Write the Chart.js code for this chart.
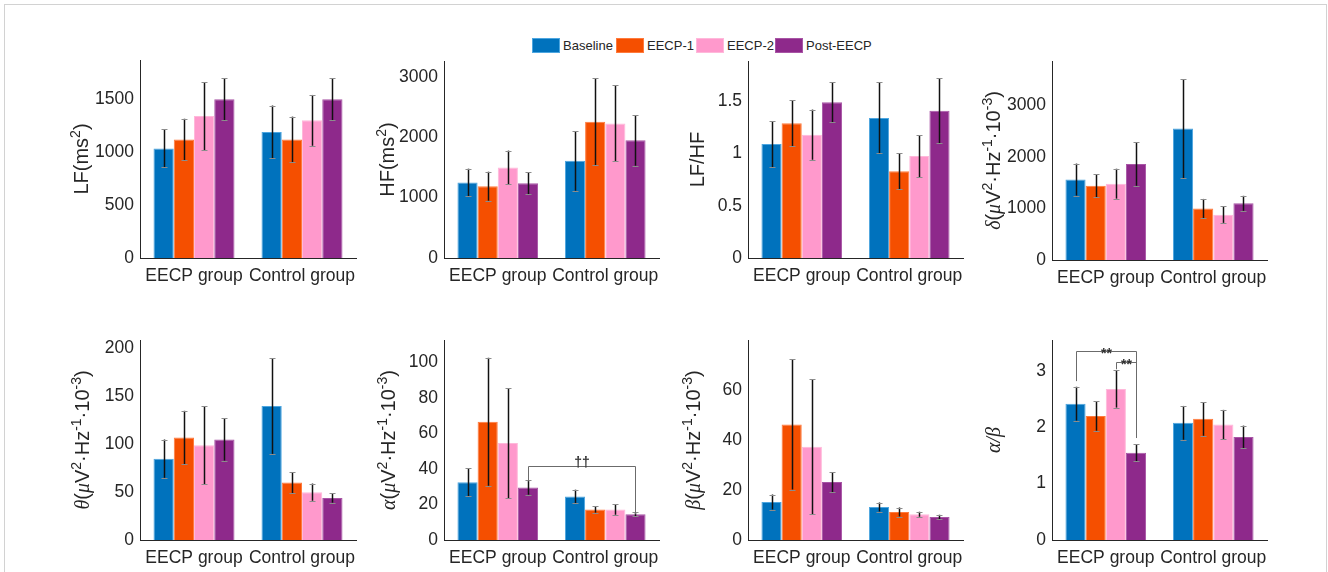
<!DOCTYPE html>
<html>
<head>
<meta charset="utf-8">
<script src="https://cdn.jsdelivr.net/npm/chart.js@4.4.0/dist/chart.umd.min.js"></script>
<style>
html,body{margin:0;padding:0;background:#fff;}
body{width:1328px;height:572px;position:relative;overflow:hidden;font-family:"Liberation Sans",Arial,sans-serif;}
#frame{position:absolute;left:4px;top:4px;width:1323px;height:620px;border:1px solid #d2d2d2;box-sizing:border-box;}
canvas{position:absolute;}
#legend{position:absolute;left:0;top:38px;width:1328px;height:15px;font-size:13px;color:#262626;white-space:nowrap;}
#legend .sw{position:absolute;top:0;width:28px;height:15px;box-sizing:border-box;}
#legend .tx{position:absolute;top:0;line-height:15px;}
</style>
</head>
<body>
<div id="frame"></div>
<div id="legend"></div>
<script>
// ---------------- data ----------------
const GROUPS = ['EECP group', 'Control group'];
const SERIES = ['Baseline', 'EECP-1', 'EECP-2', 'Post-EECP'];
const COLORS = ['#0072BD', '#F54F00', '#FF99CC', '#8E298B'];
const EDGES  = ['#4DA6E0', '#FF7A3D', '#FFB8DA', '#A855A5'];

// values indexed [series][group]
const LF_MEAN = [[1035, 1190], [1120, 1120], [1340, 1300], [1500, 1500]];
const LF_ERR  = [[180, 250], [195, 215], [320, 240], [200, 200]];
const LF_TICKS = [0, 500, 1000, 1500];

const HF_MEAN = [[1250, 1610], [1190, 2260], [1500, 2230], [1240, 1950]];
const HF_ERR  = [[230, 495], [240, 720], [280, 630], [180, 420]];
const HF_TICKS = [0, 1000, 2000, 3000];

const LFHF_MEAN = [[1.09, 1.34], [1.29, 0.83], [1.18, 0.975], [1.49, 1.41]];
const LFHF_ERR  = [[0.22, 0.34], [0.22, 0.17], [0.24, 0.2], [0.19, 0.31]];
const LFHF_TICKS = [0, 0.5, 1, 1.5];

const DELTA_MEAN = [[1560, 2550], [1440, 1000], [1480, 880], [1860, 1100]];
const DELTA_ERR  = [[310, 960], [220, 185], [290, 160], [420, 145]];
const DELTA_TICKS = [0, 1000, 2000, 3000];

const THETA_MEAN = [[85, 140], [107, 60], [99, 50], [105, 44]];
const THETA_ERR  = [[20, 50], [28, 11], [41, 9], [22, 5]];
const THETA_TICKS = [0, 50, 100, 150, 200];

const ALPHA_MEAN = [[32.5, 24.5], [66.5, 17.2], [54.5, 17.2], [29.5, 14.5]];
const ALPHA_ERR  = [[8, 3.8], [36, 1.8], [31, 3], [4, 1]];
const ALPHA_TICKS = [0, 20, 40, 60, 80, 100];

const BETA_MEAN = [[15.2, 13.2], [46.2, 11.2], [37.3, 10.3], [23.2, 9.2]];
const BETA_ERR  = [[3, 1.8], [26, 1.8], [27, 1], [4, 0.9]];
const BETA_TICKS = [0, 20, 40, 60];

const AB_MEAN = [[2.42, 2.08], [2.2, 2.15], [2.68, 2.05], [1.55, 1.83]];
const AB_ERR  = [[0.3, 0.3], [0.26, 0.3], [0.33, 0.26], [0.15, 0.2]];
const AB_TICKS = [0, 1, 2, 3];

// significance brackets: from/to = [series, group], y = bar level, yL/yR = drop ends
const ALPHA_BRACKETS = [{from: [3, 0], to: [3, 1], y: 41.9, yL: 33, yR: 14.5, label: '††'}];
const AB_BRACKETS = [
  {from: [0, 0], to: [3, 0], y: 3.357, yL: 2.82, yR: 1.81, label: '**'},
  {from: [2, 0], to: [3, 0], y: 3.167, yL: 3.03, yR: 1.81, label: '**'}
];

// y-axis titles as rich segments: [text, style]  style: n = normal, g = greek italic, s = superscript
const UNIT = [['(', 'n'], ['μ', 'g'], ['V', 'n'], ['2', 's'], ['·Hz', 'n'], ['-1', 's'], ['·10', 'n'], ['-3', 's'], [')', 'n']];
const TITLES = {
  lf: [['LF(ms', 'n'], ['2', 's'], [')', 'n']],
  hf: [['HF(ms', 'n'], ['2', 's'], [')', 'n']],
  lfhf: [['LF/HF', 'n']],
  delta: [['δ', 'g']].concat(UNIT),
  theta: [['θ', 'g']].concat(UNIT),
  alpha: [['α', 'g']].concat(UNIT),
  beta: [['β', 'g']].concat(UNIT),
  ab: [['α/β', 'g']]
};

// ---------------- layout ----------------
const YW = 110, PADT = 20, PADR = 20, XH = 36;
const LEGEND_X = [532, 616, 696, 775];
const PANELS = [
  {key: 'lf',    mean: LF_MEAN,    err: LF_ERR,    ticks: LF_TICKS,    max: 1870, box: [140, 356, 60, 258], toff: 52},
  {key: 'hf',    mean: HF_MEAN,    err: HF_ERR,    ticks: HF_TICKS,    max: 3265, box: [444, 659, 61, 258], toff: 50},
  {key: 'lfhf',  mean: LFHF_MEAN,  err: LFHF_ERR,  ticks: LFHF_TICKS,  max: 1.885, box: [748, 963, 61, 258], toff: 44},
  {key: 'delta', mean: DELTA_MEAN, err: DELTA_ERR, ticks: DELTA_TICKS, max: 3860, box: [1052, 1267, 61, 260], toff: 52},
  {key: 'theta', mean: THETA_MEAN, err: THETA_ERR, ticks: THETA_TICKS, max: 209, box: [140, 356, 340, 540], toff: 51},
  {key: 'alpha', mean: ALPHA_MEAN, err: ALPHA_ERR, ticks: ALPHA_TICKS, max: 112.5, box: [444, 659, 340, 540], toff: 49, brackets: ALPHA_BRACKETS},
  {key: 'beta',  mean: BETA_MEAN,  err: BETA_ERR,  ticks: BETA_TICKS,  max: 80, box: [748, 963, 340, 540], toff: 48},
  {key: 'ab',    mean: AB_MEAN,    err: AB_ERR,    ticks: AB_TICKS,    max: 3.55, box: [1052, 1267, 340, 540], toff: 52, brackets: AB_BRACKETS}
];

const TXT = '#262626';
const SANS = '"Liberation Sans", Arial, sans-serif';
Chart.defaults.font.family = SANS;
Chart.defaults.color = TXT;

// legend
const leg = document.getElementById('legend');
SERIES.forEach((s, i) => {
  const sw = document.createElement('div'); sw.className = 'sw';
  sw.style.left = LEGEND_X[i] + 'px';
  sw.style.background = COLORS[i]; sw.style.border = '1px solid ' + EDGES[i];
  const tx = document.createElement('span'); tx.className = 'tx';
  tx.style.left = (LEGEND_X[i] + 31) + 'px';
  tx.textContent = s;
  leg.appendChild(sw); leg.appendChild(tx);
});

function segFont(st) {
  if (st === 'g') return 'italic 20px "Liberation Serif", "DejaVu Serif", serif';
  if (st === 's') return '14px ' + SANS;
  return '20px ' + SANS;
}

const extrasPlugin = {
  id: 'extras',
  afterDatasetsDraw(chart) {
    const o = chart.options.plugins.extras;
    const ctx = chart.ctx, ys = chart.scales.y;
    // error bars
    chart.data.datasets.forEach((ds, si) => {
      const meta = chart.getDatasetMeta(si);
      meta.data.forEach((bar, gi) => {
        const m = ds.data[gi], e = o.err[si][gi];
        const yt = ys.getPixelForValue(m + e), yb = ys.getPixelForValue(m - e);
        const x = Math.round(bar.x) + 0.5;
        ctx.save();
        ctx.strokeStyle = '#111'; ctx.lineWidth = 1.5;
        ctx.beginPath(); ctx.moveTo(x, yt); ctx.lineTo(x, yb); ctx.stroke();
        ctx.strokeStyle = '#8c8c8c'; ctx.lineWidth = 1;
        ctx.beginPath();
        ctx.moveTo(x - 3, Math.round(yt) + 0.5); ctx.lineTo(x + 3, Math.round(yt) + 0.5);
        ctx.moveTo(x - 3, Math.round(yb) + 0.5); ctx.lineTo(x + 3, Math.round(yb) + 0.5);
        ctx.stroke();
        ctx.restore();
      });
    });
    // brackets
    (o.brackets || []).forEach(b => {
      const x1 = Math.round(chart.getDatasetMeta(b.from[0]).data[b.from[1]].x) + 0.5;
      const x2 = Math.round(chart.getDatasetMeta(b.to[0]).data[b.to[1]].x) + 0.5;
      const y = Math.round(ys.getPixelForValue(b.y)) + 0.5;
      ctx.save();
      ctx.strokeStyle = '#6b6b6b'; ctx.lineWidth = 1;
      ctx.beginPath();
      ctx.moveTo(x1, ys.getPixelForValue(b.yL)); ctx.lineTo(x1, y);
      ctx.lineTo(x2, y); ctx.lineTo(x2, ys.getPixelForValue(b.yR));
      ctx.stroke();
      ctx.fillStyle = '#333';
      ctx.font = 'bold 14px ' + SANS;
      ctx.textAlign = 'center'; ctx.textBaseline = 'alphabetic';
      ctx.fillText(b.label, (x1 + x2) / 2, y + (b.label === '**' ? 6 : 0));
      ctx.restore();
    });
  },
  afterDraw(chart) {
    const o = chart.options.plugins.extras;
    const ctx = chart.ctx, ca = chart.chartArea;
    const segs = o.title;
    ctx.save();
    ctx.translate(ca.left - o.toff, (ca.top + ca.bottom) / 2);
    ctx.rotate(-Math.PI / 2);
    let w = 0;
    segs.forEach(s => { ctx.font = segFont(s[1]); w += ctx.measureText(s[0]).width; });
    let cx = -w / 2;
    ctx.fillStyle = TXT; ctx.textBaseline = 'alphabetic'; ctx.textAlign = 'left';
    segs.forEach(s => {
      ctx.font = segFont(s[1]);
      ctx.fillText(s[0], cx, s[1] === 's' ? -8 : 0);
      cx += ctx.measureText(s[0]).width;
    });
    ctx.restore();
  }
};

PANELS.forEach(p => {
  const [ax, ar, at, ab] = p.box;
  const cv = document.createElement('canvas');
  const W = (ar - ax) + YW + PADR, H = (ab - at) + PADT + XH;
  cv.width = W; cv.height = H;
  cv.style.left = (ax - YW) + 'px'; cv.style.top = (at - PADT) + 'px';
  cv.style.width = W + 'px'; cv.style.height = H + 'px';
  document.body.appendChild(cv);
  new Chart(cv, {
    type: 'bar',
    data: {
      labels: GROUPS,
      datasets: SERIES.map((s, i) => ({
        label: s, data: p.mean[i],
        backgroundColor: COLORS[i], borderColor: EDGES[i], borderWidth: 1,
        categoryPercentage: 0.75, barPercentage: 1
      }))
    },
    options: {
      responsive: false, animation: false, devicePixelRatio: 1, events: [],
      layout: {padding: {left: 0, right: PADR, top: PADT, bottom: 0}},
      plugins: {
        legend: {display: false}, tooltip: {enabled: false},
        extras: {err: p.err, brackets: p.brackets, title: TITLES[p.key], toff: p.toff}
      },
      scales: {
        x: {
          afterFit: s => { s.height = XH; },
          ticks: {padding: 8, font: {size: 17.5}, color: TXT, maxRotation: 0, autoSkip: false},
          grid: {display: false, drawTicks: false},
          border: {display: true, color: TXT, width: 1}
        },
        y: {
          min: 0, max: p.max,
          afterFit: s => { s.width = YW; },
          afterBuildTicks: s => { s.ticks = p.ticks.map(v => ({value: v})); },
          ticks: {padding: 6, font: {size: 17.5}, color: TXT, callback: v => String(v)},
          grid: {display: false, drawTicks: false},
          border: {display: true, color: TXT, width: 1}
        }
      }
    },
    plugins: [extrasPlugin]
  });
});
</script>
</body>
</html>
